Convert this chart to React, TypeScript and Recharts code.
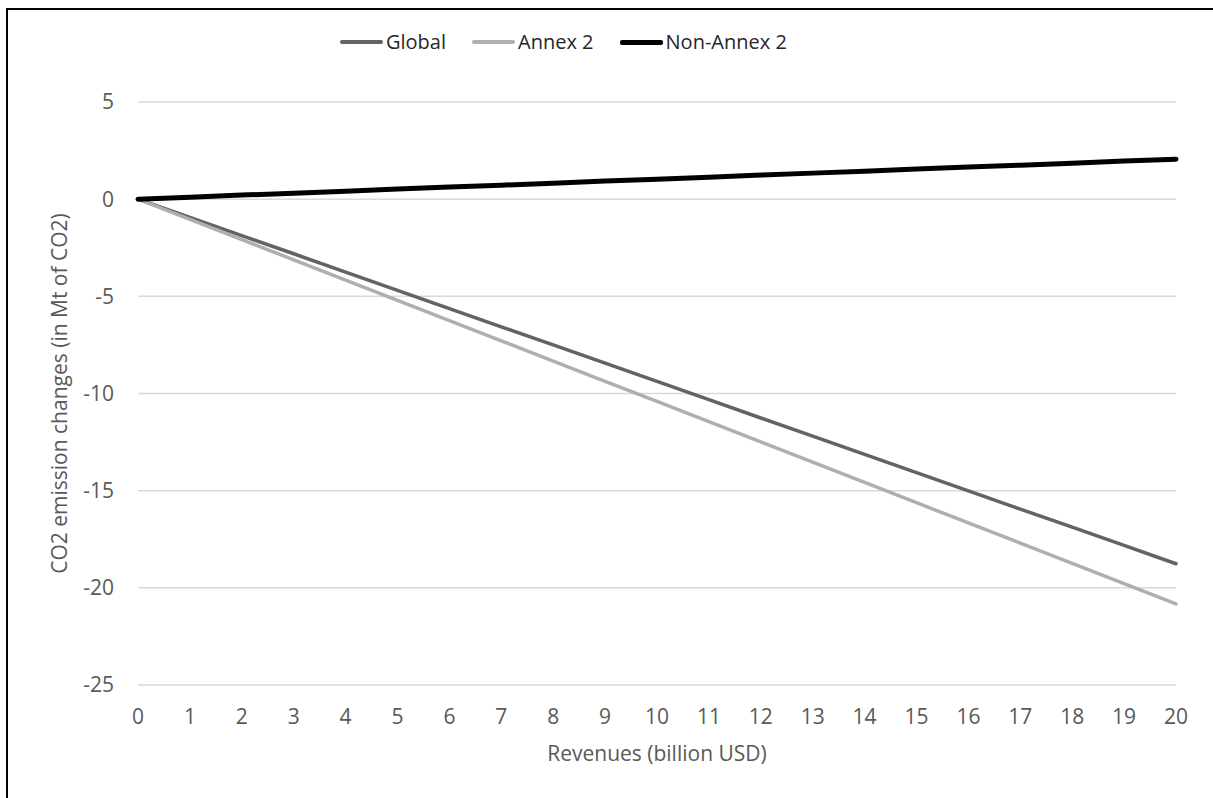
import { LineChart, Line, XAxis, YAxis, CartesianGrid } from 'recharts'

const revenues = [0, 1, 2, 3, 4, 5, 6, 7, 8, 9, 10, 11, 12, 13, 14, 15, 16, 17, 18, 19, 20]
const globalVals = [0, -0.94, -1.88, -2.81, -3.75, -4.69, -5.63, -6.57, -7.5, -8.44, -9.38, -10.32, -11.26, -12.19, -13.13, -14.07, -15.01, -15.95, -16.88, -17.82, -18.76]
const annex2Vals = [0, -1.04, -2.08, -3.12, -4.16, -5.21, -6.25, -7.29, -8.33, -9.37, -10.41, -11.45, -12.49, -13.53, -14.57, -15.62, -16.66, -17.7, -18.74, -19.78, -20.82]
const nonAnnex2Vals = [0, 0.1, 0.21, 0.31, 0.41, 0.52, 0.62, 0.72, 0.82, 0.93, 1.03, 1.13, 1.24, 1.34, 1.44, 1.55, 1.65, 1.75, 1.85, 1.96, 2.06]
const yTicks = [-25, -20, -15, -10, -5, 0, 5]

const SERIES = [
  { key: 'global', label: 'Global', color: '#636363', width: 3.5 },
  { key: 'annex2', label: 'Annex 2', color: '#afafaf', width: 3.5 },
  { key: 'nonAnnex2', label: 'Non-Annex 2', color: '#000000', width: 5 },
]

const data = revenues.map((r, i) => ({
  x: r,
  global: globalVals[i],
  annex2: annex2Vals[i],
  nonAnnex2: nonAnnex2Vals[i],
}))

const FONT = '"Open Sans", "Noto Sans", sans-serif'
const TICK = { fill: '#595959', fontSize: 21, fontFamily: FONT }

// legend drawn as plain html so it doesn't eat the plot margin
const LegendBox = () => (
  <div style={{ position: 'absolute', top: 28, left: 340, display: 'flex', alignItems: 'center', fontFamily: FONT, fontSize: 20, color: '#262626', lineHeight: '28px' }}>
    {SERIES.map(s => (
      <div key={s.key} style={{ display: 'flex', alignItems: 'center', marginRight: 26 }}>
        <span style={{ display: 'inline-block', width: 43, height: s.width, background: s.color, borderRadius: 2, marginRight: 3 }} />
        <span>{s.label}</span>
      </div>
    ))}
  </div>
)

export default function App() {
  return (
    <div style={{ position: 'absolute', left: 0, top: 0, width: 1213, height: 798, background: '#fff' }}>
      <div style={{ position: 'absolute', left: 6, top: 8, width: 1207, height: 790, borderLeft: '2px solid #000', borderTop: '2px solid #000', boxSizing: 'border-box' }} />
      <LineChart width={1213} height={798} data={data} margin={{ top: 102, right: 37, bottom: 0, left: 0 }}>
        <CartesianGrid horizontal vertical={false} stroke="#d9d9d9" strokeWidth={1.5} />
        <XAxis
          dataKey="x"
          type="number"
          domain={[0, 20]}
          ticks={revenues}
          interval={0}
          axisLine={false}
          tickLine={false}
          tickSize={0}
          tickMargin={24}
          height={113}
          tick={TICK}
          label={{ value: 'Revenues (billion USD)', position: 'insideBottom', offset: 37, style: { fill: '#595959', fontSize: 21, fontFamily: FONT } }}
        />
        <YAxis
          type="number"
          domain={[-25, 5]}
          ticks={yTicks}
          interval={0}
          axisLine={false}
          tickLine={false}
          tickSize={0}
          tickMargin={24}
          width={138}
          tick={TICK}
          label={{ value: 'CO2 emission changes (in Mt of CO2)', angle: -90, position: 'insideLeft', offset: 60, style: { textAnchor: 'middle', fill: '#595959', fontSize: 21, fontFamily: FONT } }}
        />
        {SERIES.map(s => (
          <Line
            key={s.key}
            dataKey={s.key}
            name={s.label}
            stroke={s.color}
            strokeWidth={s.width}
            dot={false}
            activeDot={false}
            strokeLinecap="round"
            isAnimationActive={false}
          />
        ))}
      </LineChart>
      <LegendBox />
    </div>
  )
}
